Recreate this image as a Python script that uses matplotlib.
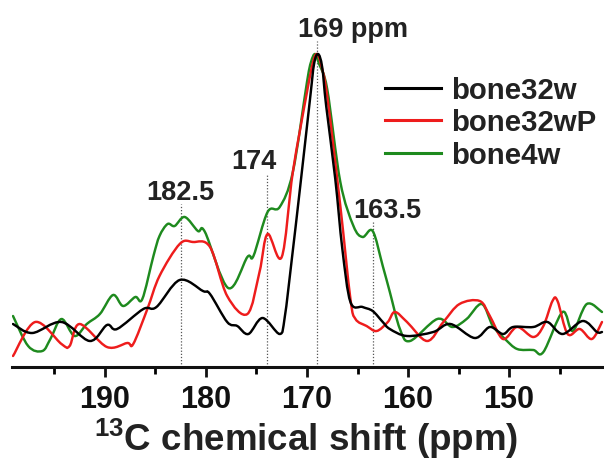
import matplotlib
matplotlib.use("Agg")
import matplotlib.pyplot as plt
from matplotlib.path import Path
from matplotlib.patches import PathPatch
from matplotlib.lines import Line2D
import numpy as np

plt.rcParams['font.family'] = ['Liberation Sans', 'DejaVu Sans']
plt.rcParams['font.weight'] = 'bold'
plt.rcParams['mathtext.fontset'] = 'custom'
plt.rcParams['mathtext.rm'] = 'Liberation Sans:bold'
plt.rcParams['mathtext.bf'] = 'Liberation Sans:bold'
plt.rcParams['mathtext.default'] = 'rm'

# ---- data (ppm, intensity a.u.) ----
black_ppm = [199.1, 197.2, 194.3, 191.5, 189.8, 188.8, 186.2, 184.9, 182.6, 180.3, 179.6,
             177.9, 176.9, 175.8, 174.4, 172.7, 172.2, 171.5, 170.7, 169.7, 169.3, 168.9,
             168.5, 168.1, 167.2, 166.5, 165.7, 164.5, 163.5, 162.5, 161.8, 160.1, 157.5,
             155.8, 153.4, 151.9, 150.6, 149.6, 147.6, 146.2, 144.7, 142.7, 141.3, 140.8]
black_int = [43, 34, 45, 26, 42, 38, 58, 60, 87, 76, 73,
             45, 41, 33, 49, 33, 50, 108, 178, 268, 303, 313,
             300, 261, 188, 118, 65, 60, 56, 45, 38, 31, 35,
             43, 29, 40, 33, 40, 40, 45, 33, 46, 35, 35]

red_ppm = [199.1, 196.9, 194.3, 193.5, 192.5, 189.8, 187.8, 187.2, 185.8, 184.6, 182.6,
           181.3, 179.6, 177.9, 175.9, 174.7, 173.9, 172.5, 171.4, 170.0, 169.4, 169.0,
           168.6, 168.0, 166.7, 165.7, 165.2, 164.1, 163.1, 162.0, 161.3, 160.1, 158.1,
           156.5, 154.9, 152.9, 151.9, 150.6, 149.2, 147.6, 146.6, 145.7, 145.2, 144.2,
           143.0, 141.8, 140.8]
red_int = [11, 45, 23, 21, 43, 20, 24, 23, 58, 91, 123,
           125, 120, 71, 53, 95, 133, 110, 195, 275, 305, 313,
           302, 271, 161, 68, 48, 41, 36, 45, 55, 45, 26,
           45, 63, 66, 51, 28, 40, 30, 41, 66, 66, 33,
           38, 28, 45]

green_ppm = [199.1, 197.6, 196.2, 195.4, 194.3, 193.0, 191.8, 190.5, 189.2, 188.2, 187.0,
             186.3, 185.2, 184.6, 183.8, 183.1, 182.1, 180.8, 180.1, 177.8, 175.9, 175.3,
             173.9, 172.7, 171.4, 170.0, 169.6, 169.2, 168.8, 168.0, 166.7, 165.4, 164.5,
             163.5, 162.5, 161.8, 160.8, 159.8, 157.1, 155.6, 154.2, 152.7, 151.6, 150.4,
             149.2, 147.6, 146.6, 144.7, 143.7, 142.3, 140.8]
green_int = [51, 21, 16, 28, 48, 31, 43, 53, 72, 61, 70,
             68, 111, 131, 143, 141, 150, 136, 135, 79, 110, 111,
             155, 160, 195, 285, 305, 313, 303, 278, 185, 141, 130,
             136, 101, 75, 38, 26, 48, 40, 48, 63, 41, 28,
             18, 17, 15, 55, 36, 63, 55]

series_labels = ['bone32w', 'bone32wP', 'bone4w']
series_colors = ['black', '#ee1c1c', '#1e8a1e']
major_ticks = [190, 180, 170, 160, 150]
minor_ticks = [195, 185, 175, 165, 155, 145]
marker_ppm = [182.5, 174, 169, 163.5]
marker_labels = ['182.5', '174', '169 ppm', '163.5']


def smooth_path(xs, ys):
    """Cubic Bezier path passing through every data point (Catmull-Rom tangents)."""
    P = np.column_stack([xs, ys]).astype(float)
    n = len(P)
    verts = [P[0]]
    codes = [Path.MOVETO]
    for i in range(n - 1):
        p0 = P[max(i - 1, 0)]
        p1 = P[i]
        p2 = P[i + 1]
        p3 = P[min(i + 2, n - 1)]
        c1 = p1 + (p2 - p0) / 6.0
        c2 = p2 - (p3 - p1) / 6.0
        lo, hi = min(p1[0], p2[0]), max(p1[0], p2[0])
        c1[0] = np.clip(c1[0], lo, hi)
        c2[0] = np.clip(c2[0], lo, hi)
        verts += [c1, c2, p2]
        codes += [Path.CURVE4] * 3
    return Path(np.array(verts), codes)


# ---- figure ----
fig = plt.figure(figsize=(6.04, 4.60), dpi=100)
ax = fig.add_axes([12/604, 92/460, 592/604, 368/460])
ax.set_xlim(199.2, 140.6)
ax.set_ylim(0, 368)

# dotted marker lines
line_tops = [163, 193, 326, 146]
for p, top in zip(marker_ppm, line_tops):
    ax.plot([p, p], [0, top], linestyle=(0, (1, 1.5)), color='#555555', lw=0.9, zorder=1)

lw = 1.75
all_series = [(green_ppm, green_int, series_colors[2], 2),
              (red_ppm, red_int, series_colors[1], 3),
              (black_ppm, black_int, series_colors[0], 4)]
for xs, ys, c, z in all_series:
    patch = PathPatch(smooth_path(xs, ys), facecolor='none', edgecolor=c, lw=lw,
                      joinstyle='round', capstyle='round', zorder=z)
    ax.add_patch(patch)

# marker labels
txt_pos = [(182.5, 175), (175.3, 206), (165.4, 338), (162.0, 157)]
for (x, y), s in zip(txt_pos, marker_labels):
    ax.text(x, y, s, ha='center', va='center', fontsize=19.5, fontweight='bold', color='#222222')

# axes styling
for sp in ['left', 'top', 'right']:
    ax.spines[sp].set_visible(False)
ax.spines['bottom'].set_linewidth(2.2)
ax.spines['bottom'].set_color('#111111')
ax.set_yticks([])
ax.set_xticks(major_ticks)
ax.set_xticks(minor_ticks, minor=True)
ax.tick_params(axis='x', which='major', direction='out', length=7.5, width=2, pad=5,
               labelsize=22, colors='#111111')
ax.tick_params(axis='x', which='minor', direction='out', length=5, width=2)
for lab in ax.get_xticklabels():
    lab.set_fontweight('bold')
xl = ax.set_xlabel(r'$^{13}$C chemical shift (ppm)', fontsize=26.5, fontweight='bold',
                   color='#222222', labelpad=0)
xl.set_va('baseline')
ax.xaxis.set_label_coords((306 - 12) / 592, -(451 - 368) / 368)

handles = [Line2D([], [], color=c, lw=2.2) for c in series_colors]
leg = ax.legend(handles, series_labels, loc='upper left',
                bbox_to_anchor=(385/604, 1 - 77/460),
                bbox_transform=fig.transFigure, frameon=False, fontsize=21.2,
                handlelength=1.9, handletextpad=0.33, labelspacing=0.15,
                borderpad=0, borderaxespad=0)
for t in leg.get_texts():
    t.set_fontweight('bold')
    t.set_color('#222222')

fig.savefig('out.png', dpi=100)
